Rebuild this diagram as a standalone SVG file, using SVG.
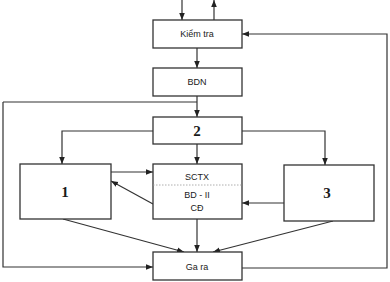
<svg xmlns="http://www.w3.org/2000/svg" width="390" height="282" viewBox="0 0 390 282">
<defs>
<marker id="ah" viewBox="0 0 10 10" refX="10" refY="5" markerWidth="7" markerHeight="7" markerUnits="userSpaceOnUse" orient="auto">
<path d="M0,1 L10,5 L0,9 z" fill="#222"/>
</marker>
</defs>
<style>
.box{fill:#fff;stroke:#333;stroke-width:1.3}
.ln{fill:none;stroke:#333;stroke-width:1.2;marker-end:url(#ah)}
.pl{fill:none;stroke:#333;stroke-width:1.2}
.t{font-family:"Liberation Sans",Arial,sans-serif;font-size:9px;fill:#1a1a1a;text-anchor:middle}
.n{font-family:"Liberation Serif","Times New Roman",serif;font-size:15px;font-weight:bold;fill:#1a1a1a;text-anchor:middle}
</style>
<rect width="390" height="282" fill="#fff"/>
<g id="connectors">
<path class="ln" d="M182,0 V20"/>
<path class="ln" d="M214,20 V0"/>
<path class="ln" d="M197,48 V68"/>
<path class="ln" d="M197,96 V117"/>
<path class="pl" d="M3,102 H197"/>
<path class="ln" d="M153,131 H62 V164"/>
<path class="ln" d="M242,131 H325 V165"/>
<path class="ln" d="M197,144 V164"/>
<path class="ln" d="M111,172 H153"/>
<path class="ln" d="M153,204 L111,181"/>
<path class="ln" d="M284,203 H242"/>
<path class="ln" d="M197,219 V252"/>
<path class="ln" d="M63,219 L184,252"/>
<path class="ln" d="M333,221 L213,252"/>
<path class="ln" d="M3,102 V267 H153"/>
<path class="ln" d="M242,268 H387 V34 H242"/>
</g>
<g id="kiemtra"><rect class="box" x="153" y="20" width="89" height="28"/><text class="t" x="197" y="37">Kiểm tra</text></g>
<g id="bdn"><rect class="box" x="153" y="68" width="89" height="28"/><text class="t" x="197" y="85">BDN</text></g>
<g id="n2"><rect class="box" x="153" y="117" width="89" height="27"/><text class="n" x="197" y="136">2</text></g>
<g id="sctx"><rect class="box" x="153" y="164" width="89" height="55"/>
<line x1="153" y1="185" x2="242" y2="185" stroke="#999" stroke-width="0.8" stroke-dasharray="1.5,1.5"/>
<text class="t" x="197" y="180">SCTX</text><text class="t" x="197" y="198">BD - II</text><text class="t" x="197" y="211">CĐ</text></g>
<g id="n1"><rect class="box" x="20" y="164" width="91" height="55"/><text class="n" x="65" y="197">1</text></g>
<g id="n3"><rect class="box" x="284" y="165" width="90" height="56"/><text class="n" x="327" y="198">3</text></g>
<g id="gara"><rect class="box" x="153" y="252" width="89" height="28"/><text class="t" x="197" y="270">Ga ra</text></g>
</svg>
